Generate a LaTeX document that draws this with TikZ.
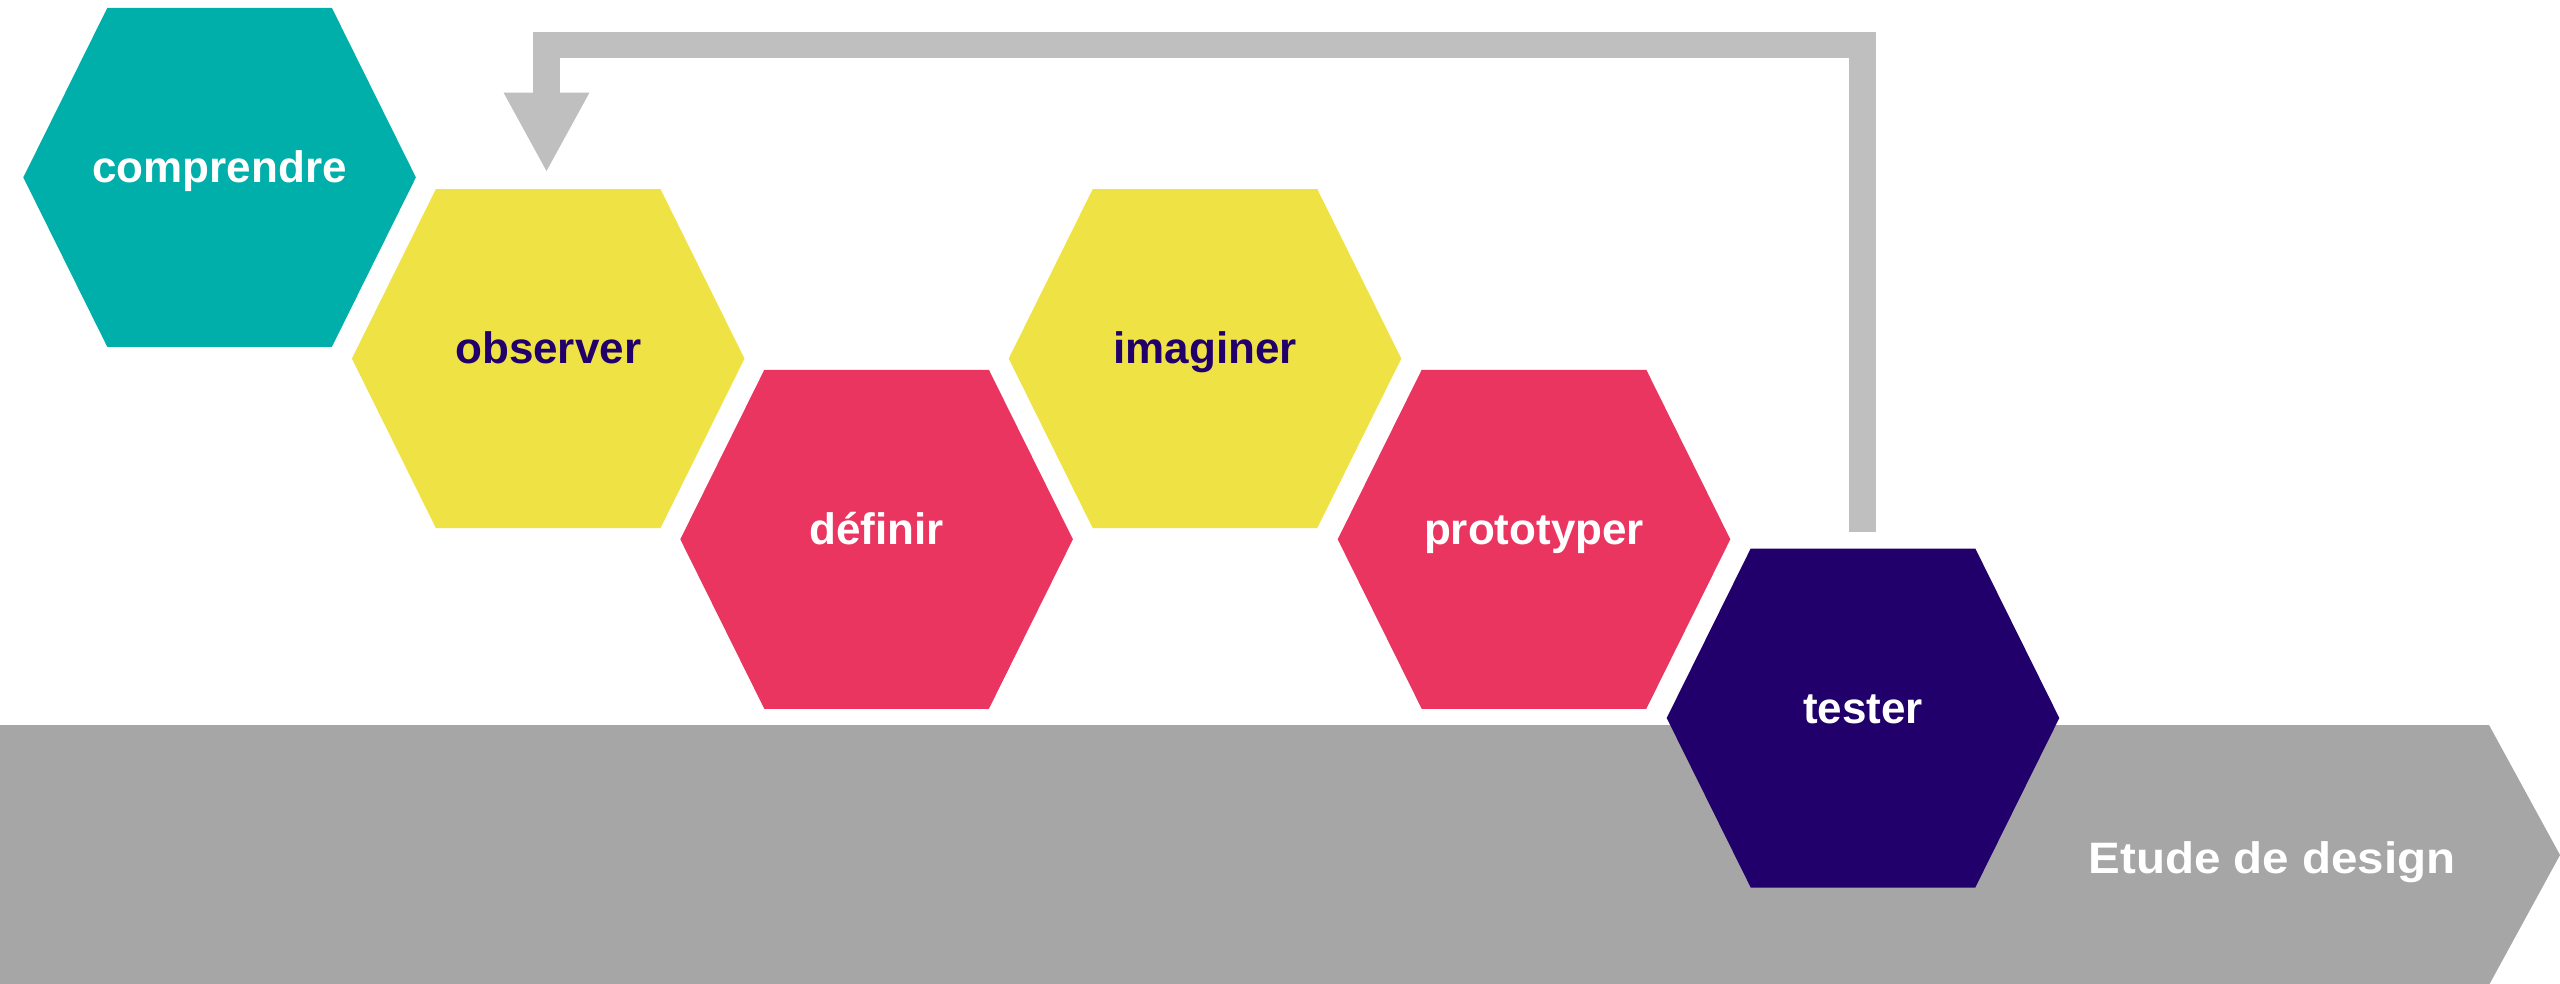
\documentclass[tikz,border=0pt]{standalone}
\usepackage{fontspec}
\setmainfont{Liberation Sans}
\usetikzlibrary{arrows.meta}
\definecolor{hteal}{RGB}{0,175,170}
\definecolor{hyellow}{RGB}{239,226,69}
\definecolor{hpink}{RGB}{235,53,97}
\definecolor{hpurple}{RGB}{33,0,108}
\definecolor{bargray}{RGB}{166,166,166}
\definecolor{loopgray}{RGB}{191,191,191}
\tikzset{
  hexa/.pic={\path[pic actions] (-196.3,0) -- (-112.3,-169.5) -- (112.3,-169.5) -- (196.3,0) -- (112.3,169.5) -- (-112.3,169.5) -- cycle;},
  lbl/.style={font=\fontsize{44}{50}\selectfont\bfseries, anchor=base, inner sep=0pt},
  loop/.style={draw=loopgray, line width=26.5pt, miter limit=10, -{Triangle[width=79.5pt,length=80pt]}, loopgray}
}
\begin{document}
\begin{tikzpicture}[x=1pt,y=-1pt]
\useasboundingbox (0,0) rectangle (2560,984);
% bar
\fill[bargray] (0,725) -- (2489,725) -- (2560,855) -- (2489,985) -- (0,985) -- cycle;
% centres
\coordinate (c1) at (219.6,177.4);
\coordinate (c2) at (548.2,358.6);
\coordinate (c3) at (876.6,539.3);
\coordinate (c4) at (1205,358.6);
\coordinate (c5) at (1534,539.3);
\coordinate (c6) at (1863,718);
\pic[fill=hteal] at (c1) {hexa};
\pic[fill=hyellow] at (c2) {hexa};
\pic[fill=hpink] at (c3) {hexa};
\pic[fill=hyellow] at (c4) {hexa};
\pic[fill=hpink] at (c5) {hexa};
\pic[fill=hpurple] at (c6) {hexa};
\node[lbl, text=white] (comprendre) at (219.6,182.4) {comprendre};
\node[lbl, text=hpurple] (observer) at (548.2,363.6) {observer};
\node[lbl, text=white] (definir) at (876.6,544.3) {définir};
\node[lbl, text=hpurple] (imaginer) at (1205,363.6) {imaginer};
\node[lbl, text=white] (prototyper) at (1534,544.3) {prototyper};
\node[lbl, text=white] (tester) at (1863,723) {tester};
\node[lbl, text=white] (etude) at (2272,873) {\scalebox{1.08}[1]{Etude de design}};
% loop arrow
\coordinate (loopA) at (1862.5,531.7);
\coordinate (loopB) at (1862.5,45);
\coordinate (loopC) at (546.5,45);
\coordinate (loopD) at (546.5,172.7);
\draw[loop] (loopA) -- (loopB) -- (loopC) -- (loopD);
\end{tikzpicture}
\end{document}
